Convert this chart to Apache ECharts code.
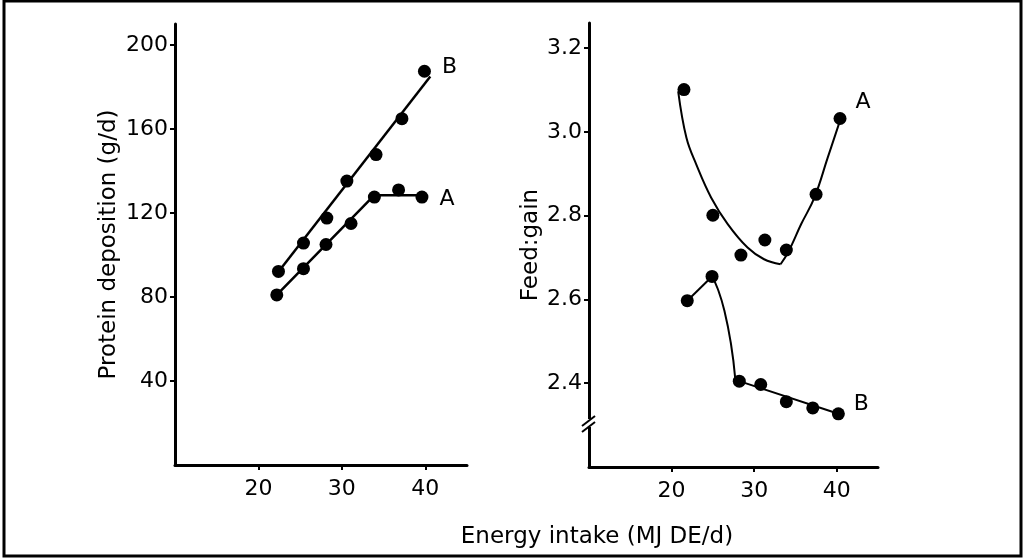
<!DOCTYPE html>
<html>
<head>
<meta charset="utf-8">
<script src="https://cdn.jsdelivr.net/npm/echarts@6/dist/echarts.min.js"></script>
<style>
  html, body { margin: 0; padding: 0; background: #fff; }
  #chart { width: 1024px; height: 558px; }
</style>
</head>
<body>
<div id="chart"></div>
<script>
// left panel: protein deposition (g/d) vs energy intake (MJ DE/d)
const proteinA = [[22.2, 81], [25.4, 93.5], [28.1, 105], [31.1, 115], [33.9, 127.6], [36.8, 131], [39.6, 127.6]]
const proteinB = [[22.4, 92.2], [25.4, 105.7], [28.2, 117.6], [30.6, 135.2], [34.1, 147.8], [37.2, 164.9], [39.9, 187.5]]
const proteinFitA = [[22.2, 81], [33.9, 128.5], [39.6, 128.5]]
const proteinFitB = [[22.4, 92], [40.6, 185]]

// right panel: feed:gain
const feedA = [[21.5, 3.101], [25.0, 2.801], [28.4, 2.706], [31.3, 2.742], [33.9, 2.718], [37.5, 2.851], [40.4, 3.032]]
const feedB = [[21.9, 2.597], [24.9, 2.655], [28.2, 2.405], [30.8, 2.397], [33.9, 2.356], [37.1, 2.341], [40.2, 2.327]]
// curve A: falling branch, then rising branch from the kink
const feedFitA1 = [[20.8, 3.097], [21.8, 2.986], [23.0, 2.922], [24.8, 2.843], [26.8, 2.78], [29.2, 2.724], [31.2, 2.696], [33.2, 2.684]]
const feedFitA2 = [[33.2, 2.684], [34.1, 2.712], [35.7, 2.78], [37.3, 2.843], [38.9, 2.938], [40.3, 3.021]]
// curve B: rise, steep drop, slow decline
const feedFitB1 = [[21.9, 2.597], [24.9, 2.655]]
const feedFitB2 = [[24.9, 2.655], [25.6, 2.625], [26.4, 2.573], [27.2, 2.493], [27.7, 2.413]]
const feedFitB3 = [[27.7, 2.413], [28.2, 2.405], [40.2, 2.327]]

const xTicks = [20, 30, 40]
const proteinTicks = [40, 80, 120, 160, 200]
const feedTicks = [2.4, 2.6, 2.8, 3.0, 3.2]

const FONT = 'DejaVu Sans'
const txt = { color: '#000', fontFamily: FONT, fontSize: 22 }

function withEndLabel(points, text, offset) {
    return points.map((p, i) => i === points.length - 1
        ? { value: p, label: { show: true, formatter: text, position: 'right', offset: offset, ...txt } }
        : p)
}

function xAxis(grid) {
    return {
        type: 'value', gridIndex: grid, min: 10, max: 45,
        axisLine: { lineStyle: { color: '#000', width: 3 } },
        axisTick: { customValues: xTicks, length: 5, lineStyle: { color: '#000', width: 2 } },
        axisLabel: { customValues: xTicks, margin: 13, ...txt },
        splitLine: { show: false }
    }
}

function yAxis(grid, min, max, ticks, name, gap, fmt) {
    return {
        type: 'value', gridIndex: grid, min: min, max: max,
        name: name, nameLocation: 'middle', nameGap: gap, nameRotate: 90,
        nameTextStyle: { ...txt, fontSize: 23 },
        axisLine: { show: true, lineStyle: { color: '#000', width: 3 } },
        axisTick: { show: true, customValues: ticks, length: 5, lineStyle: { color: '#000', width: 2 } },
        axisLabel: { customValues: ticks, margin: 7, formatter: fmt, ...txt },
        splitLine: { show: false }
    }
}

function dots(x, y, data) {
    return { type: 'scatter', xAxisIndex: x, yAxisIndex: y, data: data, symbolSize: 13,
        itemStyle: { color: '#000', opacity: 1 }, z: 3 }
}

function fit(x, y, data, w, smooth) {
    return { type: 'line', xAxisIndex: x, yAxisIndex: y, data: data, showSymbol: false, smooth: smooth || false,
        lineStyle: { color: '#000', width: w }, z: 2 }
}

const chart = echarts.init(document.getElementById('chart'), null, { renderer: 'canvas' })
chart.setOption({
    backgroundColor: '#fff',
    animation: false,
    title: {
        text: 'Energy intake (MJ DE/d)', left: 592, top: 521, textAlign: 'center',
        textStyle: { ...txt, fontSize: 23, fontWeight: 'normal' }
    },
    grid: [
        { left: 175, top: 24, width: 292, height: 441 },
        { left: 589, top: 23, width: 289, height: 444 }
    ],
    xAxis: [xAxis(0), xAxis(1)],
    yAxis: [
        yAxis(0, 0, 210, proteinTicks, 'Protein deposition (g/d)', 54, v => String(v)),
        yAxis(1, 2.2, 3.26, feedTicks, 'Feed:gain', 46, v => v.toFixed(1))
    ],
    series: [
        fit(0, 0, proteinFitA, 2.5),
        fit(0, 0, proteinFitB, 2.5),
        dots(0, 0, withEndLabel(proteinA, 'A', [6, 2])),
        dots(0, 0, withEndLabel(proteinB, 'B', [6, -4])),
        fit(1, 1, feedFitA1, 2, 0.4),
        fit(1, 1, feedFitA2, 2, 0.4),
        fit(1, 1, feedFitB1, 2),
        fit(1, 1, feedFitB2, 2, 0.5),
        fit(1, 1, feedFitB3, 2),
        dots(1, 1, withEndLabel(feedA, 'A', [4, -16])),
        dots(1, 1, withEndLabel(feedB, 'B', [4, -10]))
    ],
    graphic: [
        { type: 'rect', shape: { x: 4, y: 1, width: 1017, height: 555 },
          style: { fill: 'none', stroke: '#000', lineWidth: 3 }, z: 10 },
        // axis break on the feed:gain axis
        { type: 'rect', shape: { x: 585, y: 419, width: 9, height: 8 }, style: { fill: '#fff' }, z: 10 },
        { type: 'line', shape: { x1: 582, y1: 426, x2: 595, y2: 416 }, style: { stroke: '#000', lineWidth: 2 }, z: 11 },
        { type: 'line', shape: { x1: 582, y1: 432, x2: 595, y2: 422 }, style: { stroke: '#000', lineWidth: 2 }, z: 11 }
    ]
})
</script>
</body>
</html>
